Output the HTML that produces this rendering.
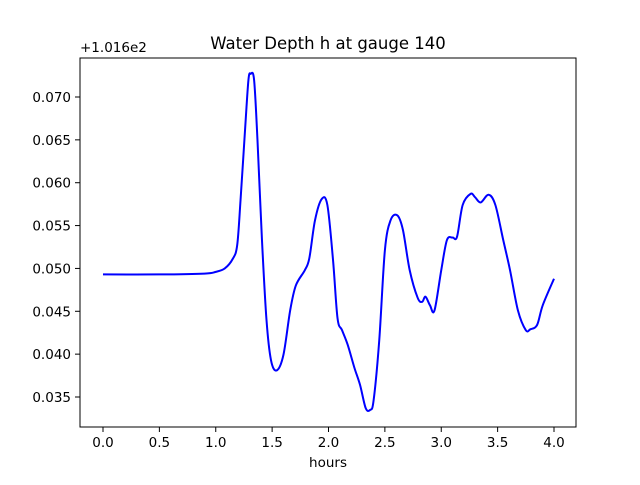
<!DOCTYPE html>
<html><head><meta charset="utf-8"><style>
body{margin:0;background:#fff}
text{font-family:"DejaVu Sans","Liberation Sans",sans-serif;fill:#000}
</style></head><body>
<svg id="chart" width="640" height="480" xmlns="http://www.w3.org/2000/svg"></svg>
<script>
const hours=[0,0.5,0.9,1.0,1.08,1.15,1.19,1.22,1.26,1.29,1.31,1.34,1.37,1.41,1.45,1.49,1.54,1.60,1.66,1.71,1.79,1.83,1.88,1.94,1.99,2.04,2.08,2.12,2.17,2.23,2.28,2.33,2.37,2.40,2.45,2.50,2.55,2.61,2.66,2.72,2.79,2.83,2.86,2.90,2.94,3.00,3.05,3.10,3.14,3.19,3.26,3.30,3.35,3.42,3.48,3.55,3.61,3.68,3.75,3.79,3.85,3.90,4.00];
const depth=[0.0493,0.0493,0.0494,0.0496,0.0500,0.0511,0.0527,0.058,0.0662,0.0720,0.0727,0.0720,0.065,0.0533,0.044,0.0393,0.0381,0.0399,0.0451,0.048,0.0498,0.0512,0.0556,0.0581,0.0574,0.051,0.0442,0.0428,0.0411,0.0384,0.0364,0.0337,0.0335,0.0346,0.0416,0.0521,0.0556,0.0562,0.0545,0.0498,0.0466,0.0461,0.0467,0.0457,0.0451,0.0498,0.0533,0.0536,0.0537,0.0574,0.0587,0.0583,0.0577,0.0586,0.0574,0.0533,0.0498,0.0451,0.0428,0.0429,0.0434,0.0457,0.0488];
const xTicks=[0,0.5,1.0,1.5,2.0,2.5,3.0,3.5,4.0];
const xTickLabels=["0.0","0.5","1.0","1.5","2.0","2.5","3.0","3.5","4.0"];
const yTicks=[0.035,0.040,0.045,0.050,0.055,0.060,0.065,0.070];
const yTickLabels=["0.035","0.040","0.045","0.050","0.055","0.060","0.065","0.070"];
const L=80,R=576,T=58,B=427;
const X=v=>103+(v-0)*(554-103)/4;
const Y=v=>97+(0.070-v)*(300/0.035);
const svg=document.getElementById('chart');
const NS='http://www.w3.org/2000/svg';
function mk(tag,attrs,parent){const e=document.createElementNS(NS,tag);for(const k in attrs)e.setAttribute(k,attrs[k]);(parent||svg).appendChild(e);return e;}
const pts=hours.map((h,i)=>[X(h),Y(depth[i])]);
let d='M'+pts[0][0]+','+pts[0][1];
for(let i=0;i<pts.length-1;i++){const p0=pts[Math.max(0,i-1)],p1=pts[i],p2=pts[i+1],p3=pts[Math.min(pts.length-1,i+2)];
const c1=[p1[0]+(p2[0]-p0[0])/6,p1[1]+(p2[1]-p0[1])/6],c2=[p2[0]-(p3[0]-p1[0])/6,p2[1]-(p3[1]-p1[1])/6];
d+=' C'+c1[0]+','+c1[1]+' '+c2[0]+','+c2[1]+' '+p2[0]+','+p2[1];}
const line=mk('path',{d:d,fill:'none',stroke:'#0000ff','stroke-width':2});


const frame=mk('rect',{x:L,y:T,width:R-L,height:B-T,fill:'none',stroke:'#000','stroke-width':1});


xTicks.forEach((v,i)=>{const x=X(v);
mk('line',{x1:x,x2:x,y1:B,y2:B+5,stroke:'#000','stroke-width':1});
const t=mk('text',{x:x,y:B+20,'text-anchor':'middle','font-size':13.5});t.textContent=xTickLabels[i];

});
yTicks.forEach((v,i)=>{const y=Y(v);
mk('line',{x1:L-5,x2:L,y1:y,y2:y,stroke:'#000','stroke-width':1});
const t=mk('text',{x:L-9,y:y+5,'text-anchor':'end','font-size':13.5});t.textContent=yTickLabels[i];

});
const off=mk('text',{x:80,y:52,'font-size':13.5});off.textContent='+1.016e2';


const title=mk('text',{x:328,y:49,'text-anchor':'middle','font-size':16.5});title.textContent='Water Depth h at gauge 140';


const xl=mk('text',{x:328,y:467,'text-anchor':'middle','font-size':13.5});xl.textContent='hours';


</script>
</body></html>
